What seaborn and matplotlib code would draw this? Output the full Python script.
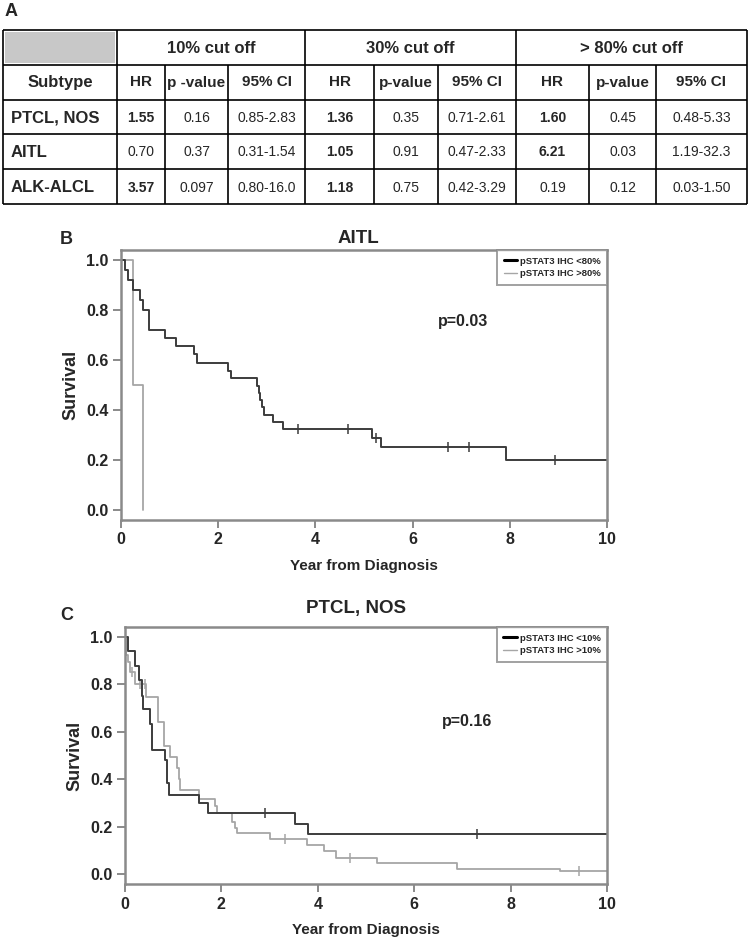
import matplotlib
matplotlib.use('Agg')
import matplotlib.pyplot as plt
import seaborn as sns
from matplotlib import font_manager
from matplotlib.lines import Line2D
from matplotlib.patches import Rectangle

# ---- table A data ----
cutoffs = ['10% cut off', '30% cut off', '> 80% cut off']
sub_headers = ['HR', 'p -value', '95% CI', 'HR', 'p-value', '95% CI', 'HR', 'p-value', '95% CI']
subtypes = ['PTCL, NOS', 'AITL', 'ALK-ALCL']
hr_10 = ['1.55', '0.70', '3.57']
p_10 = ['0.16', '0.37', '0.097']
ci_10 = ['0.85-2.83', '0.31-1.54', '0.80-16.0']
hr_30 = ['1.36', '1.05', '1.18']
p_30 = ['0.35', '0.91', '0.75']
ci_30 = ['0.71-2.61', '0.47-2.33', '0.42-3.29']
hr_80 = ['1.60', '6.21', '0.19']
p_80 = ['0.45', '0.03', '0.12']
ci_80 = ['0.48-5.33', '1.19-32.3', '0.03-1.50']
hr_bold = [[True, False, True], [True, True, True], [True, True, False]]

# ---- B: AITL ----
aitl_lo_t = [0, 0.08, 0.15, 0.25, 0.39, 0.45, 0.58, 0.90, 1.13, 1.51, 1.56, 2.21, 2.26,
             2.79, 2.84, 2.87, 2.90, 2.95, 3.13, 3.33, 5.16, 5.35, 7.92, 10]
aitl_lo_s = [1.0, 0.96, 0.92, 0.88, 0.84, 0.80, 0.72, 0.688, 0.655, 0.622, 0.588, 0.555, 0.527,
             0.495, 0.467, 0.438, 0.41, 0.378, 0.351, 0.323, 0.287, 0.251, 0.201, 0.201]
aitl_lo_cens_t = [0, 3.64, 4.68, 5.25, 6.72, 7.16, 8.94]
aitl_lo_cens_s = [1.0, 0.323, 0.323, 0.287, 0.251, 0.251, 0.201]
aitl_hi_t = [0, 0.25, 0.46]
aitl_hi_s = [1.0, 0.5, 0.0]

# ---- C: PTCL, NOS ----
ptcl_lo_t = [0, 0.07, 0.21, 0.30, 0.35, 0.38, 0.52, 0.55, 0.83, 0.88, 0.91, 1.54, 1.73, 3.53, 3.80, 10]
ptcl_lo_s = [1.0, 0.94, 0.877, 0.82, 0.749, 0.696, 0.633, 0.522, 0.48, 0.384, 0.332, 0.299, 0.257,
             0.211, 0.167, 0.167]
ptcl_lo_cens_t = [2.90, 7.30]
ptcl_lo_cens_s = [0.257, 0.167]
ptcl_hi_t = [0, 0.02, 0.07, 0.10, 0.21, 0.44, 0.69, 0.81, 0.93, 1.07, 1.12, 1.14, 1.54, 1.87, 1.91,
             2.23, 2.28, 2.32, 3.01, 3.78, 4.13, 4.38, 5.22, 6.88, 9.02, 10]
ptcl_hi_s = [1.0, 0.923, 0.895, 0.852, 0.80, 0.746, 0.64, 0.54, 0.494, 0.448, 0.399, 0.356, 0.318,
             0.285, 0.257, 0.221, 0.196, 0.174, 0.148, 0.122, 0.097, 0.069, 0.048, 0.023, 0.011, 0.011]
ptcl_hi_cens_t = [0.14, 0.31, 0.41, 3.31, 4.67, 9.42]
ptcl_hi_cens_s = [0.852, 0.80, 0.80, 0.148, 0.069, 0.011]

sns.set_style('white')
plt.rcParams['font.family'] = ['Liberation Sans', 'DejaVu Sans']

# the table in the reference uses a condensed face
installed = {f.name for f in font_manager.fontManager.ttflist}
if 'Liberation Sans Narrow' in installed:
    TFONT = ['Liberation Sans Narrow', 'Liberation Sans']
    T_HEAD, T_BOLD, T_NUM, T_NAME = 14, 13, 12.5, 14
else:
    TFONT = ['Liberation Sans', 'DejaVu Sans']
    T_HEAD, T_BOLD, T_NUM, T_NAME = 12, 11, 10, 12

W, H = 750, 938
fig = plt.figure(figsize=(7.5, 9.38), dpi=100)

DARK = '#3c3c3c'
GREY = '#a6a6a6'
SPINE = '#8a8a8a'


def px_axes(left, top, right, bottom):
    return fig.add_axes([left / W, 1 - bottom / H, (right - left) / W, (bottom - top) / H])


# overlay for table and letters (pixel coords)
ov = fig.add_axes([0, 0, 1, 1])
ov.set_xlim(0, W)
ov.set_ylim(H, 0)
ov.axis('off')

rows_y = [30, 65, 100, 134, 169, 204]
cols_major = [3, 117, 305, 516, 747]
cols_minor = [165, 228, 374, 438, 589, 656]
cols_all = sorted(cols_major + cols_minor)

ov.add_patch(Rectangle((5, 32), 110, 31, color='#c8c8c8', lw=0))
ov.hlines(rows_y, 3, 747, color='black', lw=1.2)
ov.vlines(cols_major, rows_y[0], rows_y[-1], color='black', lw=1.2)
ov.vlines(cols_minor, rows_y[1], rows_y[-1], color='black', lw=1.2)

for i, c in enumerate(cutoffs):
    xc = (cols_major[i + 1] + cols_major[i + 2]) / 2
    ov.text(xc, (rows_y[0] + rows_y[1]) / 2 + 1, c, ha='center', va='center',
            fontsize=T_HEAD, fontweight='bold', family=TFONT)

ov.text(60, (rows_y[1] + rows_y[2]) / 2, 'Subtype', ha='center', va='center',
        fontsize=T_NAME, fontweight='bold', family=TFONT)
for j, h in enumerate(sub_headers):
    xc = (cols_all[j + 1] + cols_all[j + 2]) / 2
    ov.text(xc, (rows_y[1] + rows_y[2]) / 2, h, ha='center', va='center',
            fontsize=T_BOLD, fontweight='bold', family=TFONT)

groups = [(hr_10, p_10, ci_10), (hr_30, p_30, ci_30), (hr_80, p_80, ci_80)]
for r, name in enumerate(subtypes):
    yc = (rows_y[r + 2] + rows_y[r + 3]) / 2 + 1
    ov.text(11, yc, name, ha='left', va='center', fontsize=T_NAME, fontweight='bold',
            family=TFONT)
    for g, (hr, pv, ci) in enumerate(groups):
        vals = [hr[r], pv[r], ci[r]]
        for k, v in enumerate(vals):
            j = g * 3 + k
            xc = (cols_all[j + 1] + cols_all[j + 2]) / 2
            bold = (k == 0 and hr_bold[g][r])
            ov.text(xc, yc, v, ha='center', va='center', fontsize=T_NUM, family=TFONT,
                    fontweight='bold' if bold else 'normal')

ov.text(5, 12, 'A', ha='left', va='center', fontsize=13, fontweight='bold')
ov.text(60, 240, 'B', ha='left', va='center', fontsize=13, fontweight='bold')
ov.text(60, 615, 'C', ha='left', va='center', fontsize=13, fontweight='bold')


def km_panel(ax, lo_t, lo_s, lo_ct, lo_cs, hi_t, hi_s, hi_ct, hi_cs, labels, ptext, pxy, pad):
    sns.lineplot(x=hi_t, y=hi_s, drawstyle='steps-post', estimator=None, sort=False,
                 color=GREY, linewidth=1.3, ax=ax)
    sns.lineplot(x=lo_t, y=lo_s, drawstyle='steps-post', estimator=None, sort=False,
                 color=DARK, linewidth=1.4, ax=ax)
    if hi_ct:
        sns.scatterplot(x=hi_ct, y=hi_cs, marker='|', s=45, color=GREY, linewidth=1.1, ax=ax)
    sns.scatterplot(x=lo_ct, y=lo_cs, marker='|', s=45, color=DARK, linewidth=1.1, ax=ax)
    ax.set_xlim(0, 10)
    ax.set_ylim(-pad, 1 + pad)
    ax.set_xticks(range(0, 11, 2))
    ax.set_yticks([0, 0.2, 0.4, 0.6, 0.8, 1.0])
    ax.set_yticklabels(['0.0', '0.2', '0.4', '0.6', '0.8', '1.0'])
    for sp in ax.spines.values():
        sp.set_color(SPINE)
        sp.set_linewidth(1.8)
    ax.tick_params(direction='out', length=6, width=1.4, color=SPINE, labelsize=11.5, pad=3,
                   bottom=True, left=True)
    for lab in ax.get_xticklabels() + ax.get_yticklabels():
        lab.set_fontweight('bold')
    ax.set_xlabel('Year from Diagnosis', fontsize=11, fontweight='bold', labelpad=8)
    ax.set_ylabel('Survival', fontsize=13, fontweight='bold', labelpad=5)
    ax.text(pxy[0], pxy[1], ptext, ha='center', va='center', fontsize=11.5, fontweight='bold')
    handles = [Line2D([], [], color='black', lw=2.2), Line2D([], [], color=GREY, lw=1.0)]
    leg = ax.legend(handles, labels, loc='upper right', borderaxespad=0, fancybox=False,
                    frameon=True, prop={'size': 6.8, 'weight': 'bold'}, handlelength=1.4,
                    handletextpad=0.3, labelspacing=0.35, borderpad=0.7)
    leg.get_frame().set_edgecolor(SPINE)
    leg.get_frame().set_linewidth(1.4)


axB = px_axes(121, 250, 607, 520)
km_panel(axB, aitl_lo_t, aitl_lo_s, aitl_lo_cens_t, aitl_lo_cens_s,
         aitl_hi_t, aitl_hi_s, [], [],
         ['pSTAT3 IHC <80%', 'pSTAT3 IHC >80%'], 'p=0.03', (7.04, 0.753), 0.04)
fig.text(358 / W, 1 - 238 / H, 'AITL', ha='center', va='center', fontsize=13.5, fontweight='bold')

axC = px_axes(125, 627, 607, 884)
km_panel(axC, ptcl_lo_t, ptcl_lo_s, ptcl_lo_cens_t, ptcl_lo_cens_s,
         ptcl_hi_t, ptcl_hi_s, ptcl_hi_cens_t, ptcl_hi_cens_s,
         ['pSTAT3 IHC <10%', 'pSTAT3 IHC >10%'], 'p=0.16', (7.09, 0.643), 0.042)
fig.text(356 / W, 1 - 609 / H, 'PTCL, NOS', ha='center', va='center', fontsize=13.5,
         fontweight='bold')

fig.savefig('out.png', dpi=100)
